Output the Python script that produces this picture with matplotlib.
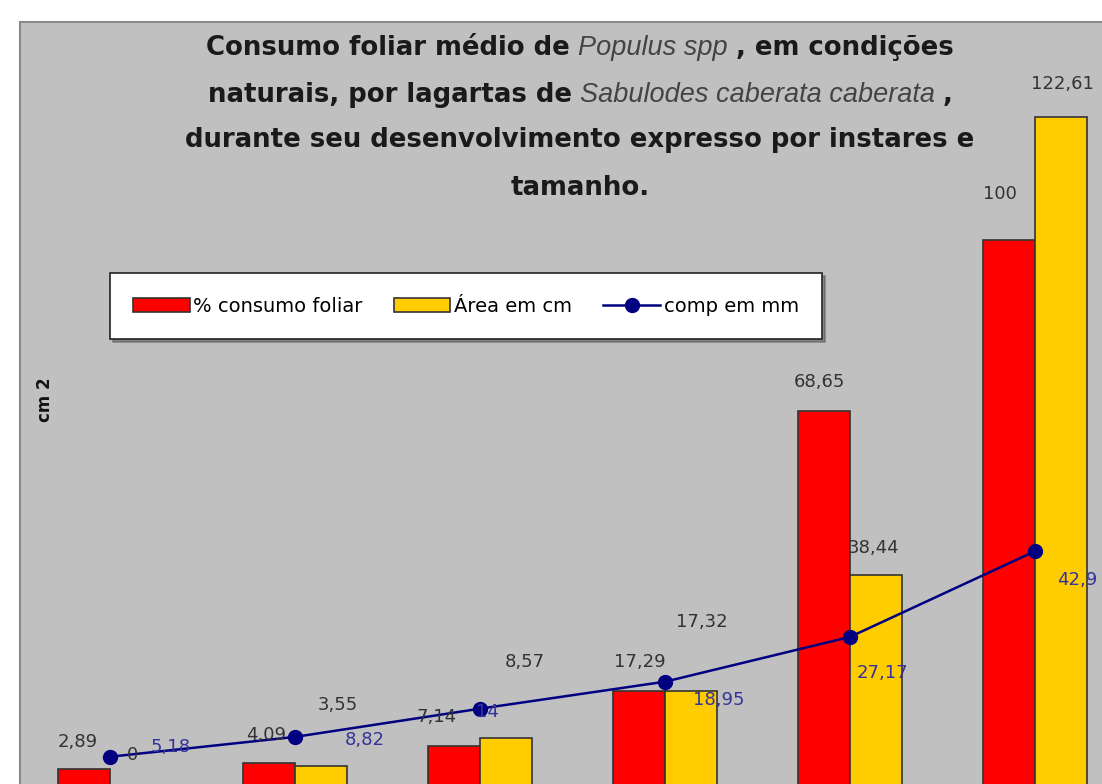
import numpy as np
import matplotlib
matplotlib.use("Agg")
import matplotlib.pyplot as plt

# --- data (six instars) ---
consumo = [2.89, 4.09, 7.14, 17.29, 68.65, 100]      # % consumo foliar
area = [0, 3.55, 8.57, 17.32, 38.44, 122.61]         # Área em cm
comp = [5.18, 8.82, 14, 18.95, 27.17, 42.9]          # comp em mm

leg_labels = ["% consumo foliar", "Área em cm", "comp em mm"]

# label offsets in pixels (dx, dy), as Excel placed them
off_consumo = [(-6, 27), (-3, 28), (-17, 29), (1, 29), (-5, 29), (-9, 46)]
off_area = [(-3, 30), (17, 61), (19, 76), (11, 69), (-2, 27), (2, 33)]
off_comp = [(61, 10), (70, -3), (7, -3), (54, -18), (32, -36), (42, -29)]

GRAY = "#c0c0c0"
W, H = 1102, 784


def fmt(v):
    return f"{v:g}".replace(".", ",")


fig = plt.figure(figsize=(W / 100, H / 100), dpi=100)
fig.patch.set_facecolor("white")

ax = fig.add_axes([20 / W, 0, 1082 / W, 762 / H])
ax.set_facecolor(GRAY)
for s in ["right", "bottom"]:
    ax.spines[s].set_visible(False)
for s in ["left", "top"]:
    ax.spines[s].set_color("#8a8a8a")
    ax.spines[s].set_linewidth(1.5)
ax.set_xticks([])
ax.set_yticks([])

x = np.arange(len(consumo))
bw = 0.28
b1 = ax.bar(x - bw / 2, consumo, bw, color="#ff0000", edgecolor="#333333", linewidth=1.2, zorder=2)
b2 = ax.bar(x + bw / 2, area, bw, color="#ffcc00", edgecolor="#333333", linewidth=1.2, zorder=2)
ln, = ax.plot(x, comp, color="#000080", linewidth=1.8, marker="o", markersize=10, zorder=3)

ax.set_xlim(-0.486, 5.362)
ax.set_ylim(0.18, 140)

for i in range(len(x)):
    ax.annotate(fmt(consumo[i]), (x[i] - bw / 2, consumo[i]), xytext=off_consumo[i],
                textcoords="offset pixels", ha="center", va="center",
                fontsize=13, color="#333333", zorder=4, annotation_clip=False)
    ax.annotate(fmt(area[i]), (x[i] + bw / 2, area[i]), xytext=off_area[i],
                textcoords="offset pixels", ha="center", va="center",
                fontsize=13, color="#333333", zorder=4, annotation_clip=False)
    ax.annotate(fmt(comp[i]), (x[i], comp[i]), xytext=off_comp[i],
                textcoords="offset pixels", ha="center", va="center",
                fontsize=13, color="#33339a", zorder=4, annotation_clip=False)

# legend
leg = ax.legend([b1, b2, ln], leg_labels, ncol=3, loc="center",
                bbox_to_anchor=(466 / W, 1 - 306 / H), bbox_transform=fig.transFigure,
                fontsize=14, frameon=True, fancybox=False, shadow=True,
                handlelength=2.9, handleheight=0.7, handletextpad=0.2,
                columnspacing=1.6, borderpad=1.2)
leg.get_frame().set_edgecolor("#222222")
leg.get_frame().set_linewidth(1.2)

# y axis title
fig.text(45 / W, 1 - 400 / H, "cm 2", rotation=90, ha="center", va="center",
         fontsize=12, fontweight="bold", color="#111111")

# title built from bold and italic pieces
renderer = fig.canvas.get_renderer()
bold = dict(fontsize=18.7, fontweight="bold", color="#1a1a1a", family="DejaVu Sans")
ital = dict(fontsize=19.5, style="italic", color="#444444", family="Liberation Sans")


def title_line(y_px, parts, cx=580, gap=8):
    texts = []
    widths = []
    for s, kw in parts:
        t = fig.text(0, 1 - y_px / H, s, ha="left", va="center", **kw)
        widths.append(t.get_window_extent(renderer).width)
        texts.append(t)
    total = sum(widths) + gap * (len(parts) - 1)
    xpos = cx - total / 2
    for t, w in zip(texts, widths):
        t.set_x(xpos / W)
        xpos += w + gap


title_line(48, [("Consumo foliar médio de", bold), ("Populus spp", ital), (", em condições", bold)])
title_line(95, [("naturais, por lagartas de", bold), ("Sabulodes caberata caberata", ital), (",", bold)])
title_line(140, [("durante seu desenvolvimento expresso por instares e", bold)])
title_line(188, [("tamanho.", bold)])

fig.savefig("out.png", dpi=100, facecolor=fig.get_facecolor())
